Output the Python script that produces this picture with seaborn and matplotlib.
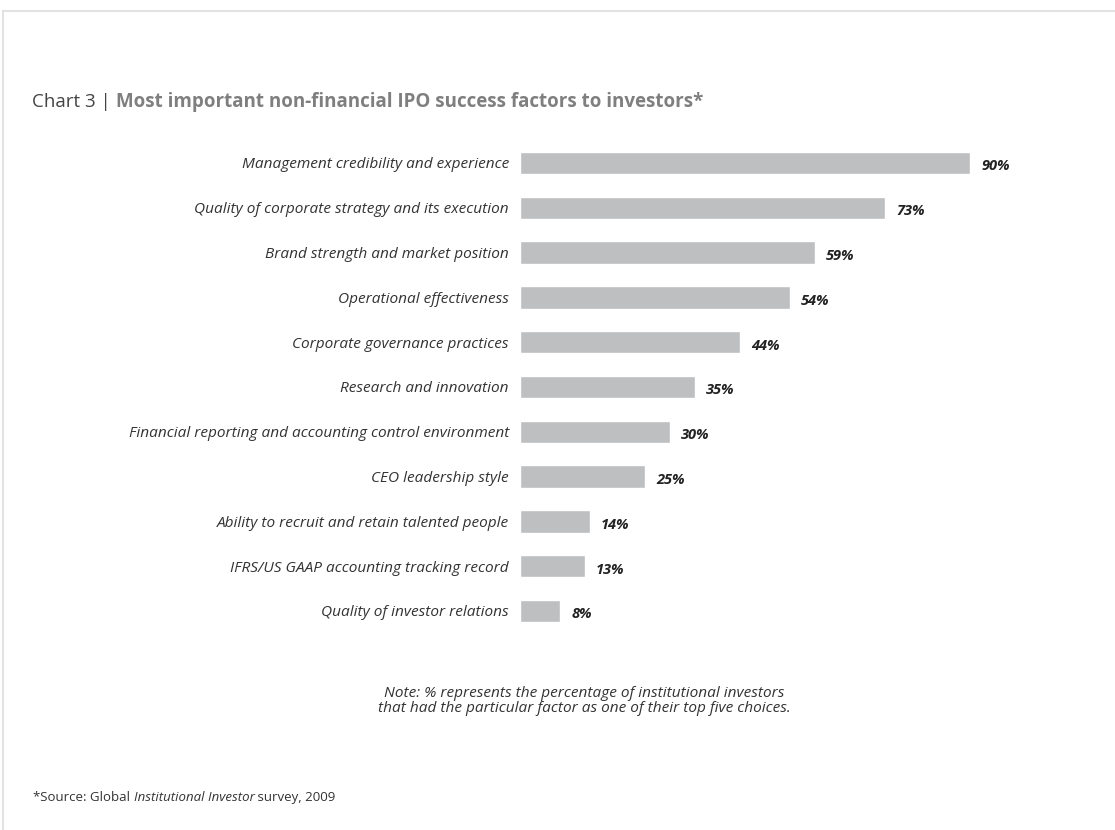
import matplotlib
matplotlib.use("Agg")
import matplotlib.pyplot as plt
import seaborn as sns
import pandas as pd
from matplotlib.patches import Rectangle

factors = [
    "Management credibility and experience",
    "Quality of corporate strategy and its execution",
    "Brand strength and market position",
    "Operational effectiveness",
    "Corporate governance practices",
    "Research and innovation",
    "Financial reporting and accounting control environment",
    "CEO leadership style",
    "Ability to recruit and retain talented people",
    "IFRS/US GAAP accounting tracking record",
    "Quality of investor relations",
]
percentages = [90, 73, 59, 54, 44, 35, 30, 25, 14, 13, 8]

df = pd.DataFrame({"factor": factors, "pct": percentages})

sns.set_theme(style="white")
plt.rcParams["font.family"] = ["Open Sans", "DejaVu Sans"]

W, H = 1115, 830
fig = plt.figure(figsize=(W / 100, H / 100), dpi=100)
fig.patch.set_facecolor("white")

# faint page frame
fig.add_artist(Rectangle((3 / W, -0.01), 1.02, (H - 11) / H + 0.01,
                         transform=fig.transFigure, fill=False,
                         edgecolor="#e2e2e2", linewidth=1.5))

ax = fig.add_axes([520 / W, (830 - 633.4) / H, 500 / W, 492.8 / H])
sns.barplot(data=df, x="pct", y="factor", orient="h", color="#bebfc0",
            saturation=1, width=0.5, ax=ax)
ax.set_xlim(0, 100)
ax.set_ylim(10.5, -0.5)
for s in ax.spines.values():
    s.set_visible(False)
ax.set_xticks([])
ax.set_xlabel("")
ax.set_ylabel("")
ax.tick_params(axis="y", length=0, pad=8)
for lab in ax.get_yticklabels():
    lab.set_fontstyle("italic")
    lab.set_fontsize(11.1)
    lab.set_color("#333333")

anns = ax.bar_label(ax.containers[0], labels=[f"{v}%" for v in percentages],
                    padding=8, fontsize=10.5, fontweight="bold",
                    fontstyle="italic", color="#222222")
for a in anns:
    a.xyann = (8, -2.5)

# Title with mixed styles
fig.canvas.draw()
renderer = fig.canvas.get_renderer()
t1 = fig.text(32 / W, 1 - 102 / H, "Chart 3 | ", fontsize=13.5, color="#444444",
              va="center", ha="left")
bb = t1.get_window_extent(renderer)
fig.text(bb.x1 / W, 1 - 102 / H,
         "Most important non-financial IPO success factors to investors*",
         fontsize=13.5, color="#7f7f7f", fontweight="bold", va="center", ha="left")

# Note
fig.text(584 / W, 1 - 701 / H,
         "Note: % represents the percentage of institutional investors\n"
         "that had the particular factor as one of their top five choices.",
         fontsize=11.1, fontstyle="italic", color="#333333", ha="center",
         va="center", linespacing=1.0)

# Source with mixed styles
y_src = 1 - 797 / H
parts = [("*Source: Global ", "normal"), ("Institutional Investor", "italic"),
         (" survey, 2009", "normal")]
x = 33 / W
for txt, st in parts:
    t = fig.text(x, y_src, txt, fontsize=9.5, fontstyle=st, color="#333333",
                 va="center", ha="left")
    fig.canvas.draw()
    x = t.get_window_extent(renderer).x1 / W

fig.savefig("out.png", dpi=100)
